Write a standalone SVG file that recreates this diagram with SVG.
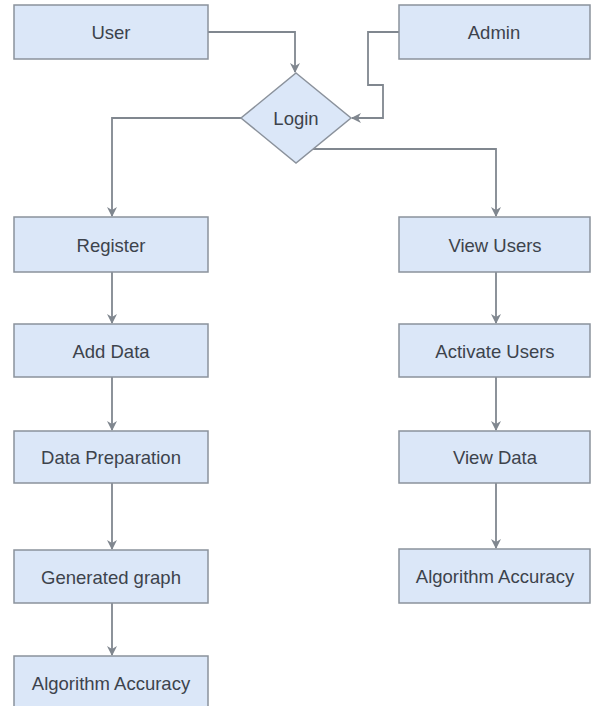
<svg xmlns="http://www.w3.org/2000/svg" width="591" height="706" viewBox="0 0 591 706">
<style>
.box{fill:#dbe7f8;stroke:#8b929c;stroke-width:1.5}
.lbl{font-family:"Liberation Sans",Arial,sans-serif;font-size:18.5px;fill:#3d434c;text-anchor:middle;dominant-baseline:central}
.edge{fill:none;stroke:#80878f;stroke-width:1.8}
</style>
<defs>
<marker id="arr" viewBox="0 0 10 10" refX="9" refY="5" markerWidth="10" markerHeight="10" markerUnits="userSpaceOnUse" orient="auto">
<path d="M0,0 L10,5 L0,10 L3,5 z" fill="#80878f"/>
</marker>
</defs>
<rect width="591" height="706" fill="#ffffff"/>
<g id="connectors">
<path class="edge" d="M208,32 H295 V72" marker-end="url(#arr)"/>
<path class="edge" d="M399,32 H368 V85 H383 V118 H352" marker-end="url(#arr)"/>
<path class="edge" d="M241,118 H112 V216" marker-end="url(#arr)"/>
<path class="edge" d="M313,149 H496 V216" marker-end="url(#arr)"/>
<path class="edge" d="M112,272 V323" marker-end="url(#arr)"/>
<path class="edge" d="M112,377 V430" marker-end="url(#arr)"/>
<path class="edge" d="M112,483 V549" marker-end="url(#arr)"/>
<path class="edge" d="M112,603 V655" marker-end="url(#arr)"/>
<path class="edge" d="M496,272 V323" marker-end="url(#arr)"/>
<path class="edge" d="M496,377 V430" marker-end="url(#arr)"/>
<path class="edge" d="M496,483 V548" marker-end="url(#arr)"/>
</g>
<g id="user"><rect class="box" x="14" y="5" width="194" height="54"/><text class="lbl" x="111" y="32">User</text></g>
<g id="admin"><rect class="box" x="399" y="5" width="191" height="54"/><text class="lbl" x="494" y="32">Admin</text></g>
<g id="login"><polygon class="box" points="296,73 351,118 296,163 241,118"/><text class="lbl" x="296" y="118">Login</text></g>
<g id="register"><rect class="box" x="14" y="217" width="194" height="55"/><text class="lbl" x="111" y="245">Register</text></g>
<g id="add-data"><rect class="box" x="14" y="324" width="194" height="53"/><text class="lbl" x="111" y="351">Add Data</text></g>
<g id="data-preparation"><rect class="box" x="14" y="431" width="194" height="52"/><text class="lbl" x="111" y="457">Data Preparation</text></g>
<g id="generated-graph"><rect class="box" x="14" y="550" width="194" height="53"/><text class="lbl" x="111" y="577">Generated graph</text></g>
<g id="algorithm-accuracy-left"><rect class="box" x="14" y="656" width="194" height="56"/><text class="lbl" x="111" y="683">Algorithm Accuracy</text></g>
<g id="view-users"><rect class="box" x="399" y="217" width="191" height="55"/><text class="lbl" x="495" y="245">View Users</text></g>
<g id="activate-users"><rect class="box" x="399" y="324" width="191" height="53"/><text class="lbl" x="495" y="351">Activate Users</text></g>
<g id="view-data"><rect class="box" x="399" y="431" width="191" height="52"/><text class="lbl" x="495" y="457">View Data</text></g>
<g id="algorithm-accuracy-right"><rect class="box" x="399" y="549" width="191" height="54"/><text class="lbl" x="495" y="576">Algorithm Accuracy</text></g>
</svg>
